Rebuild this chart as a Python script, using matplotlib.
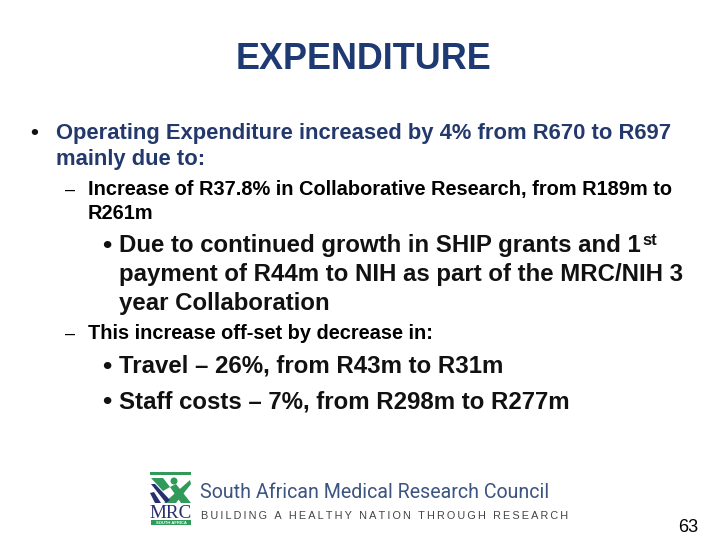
import matplotlib
matplotlib.use("Agg")
import matplotlib.pyplot as plt
from matplotlib.patches import Rectangle, Polygon, Ellipse

plt.rcParams['font.family'] = ['Liberation Sans', 'DejaVu Sans']

NAVY = '#1f3a73'
TEXT_NAVY = '#24396b'
LOGO_BLUE = '#3b5480'
DARK_BLUE = '#27306e'
GREEN = '#2f9a5a'

title = "EXPENDITURE"

# text, left x, baseline y
level1 = [
    ("Operating Expenditure increased by 4% from R670 to R697", 56, 139),
    ("mainly due to:", 56, 165),
]
level2 = [
    ("Increase of R37.8% in Collaborative Research, from R189m to", 88, 195),
    ("R261m", 88, 219),
    ("This increase off-set by decrease in:", 88, 339),
]
level3 = [
    ("Due to continued growth in SHIP grants and 1", 119, 252),
    ("payment of R44m to NIH as part of the MRC/NIH 3", 119, 281),
    ("year Collaboration", 119, 310),
    ("Travel \u2013 26%, from R43m to R31m", 119, 373),
    ("Staff costs \u2013 7%, from R298m to R277m", 119, 408),
]
bullets = [(30, 139, 16), (102, 253, 19), (102, 374, 19), (102, 409, 19)]
dashes = [(65, 195), (65, 339)]

org_name = "South African Medical Research Council"
tagline = "BUILDING A HEALTHY NATION THROUGH RESEARCH"

fig = plt.figure(figsize=(7.2, 5.4), dpi=100)
ax = fig.add_axes([0, 0, 1, 1])
ax.set_xlim(0, 720)
ax.set_ylim(540, 0)
ax.axis('off')

ax.text(363, 69, title, ha='center', va='baseline', fontsize=25.9,
        fontweight='bold', color=NAVY)

for s, x, y in level1:
    ax.text(x, y, s, va='baseline', fontsize=15.8, fontweight='bold', color=TEXT_NAVY)
for s, x, y in level2:
    ax.text(x, y, s, va='baseline', fontsize=14.4, fontweight='bold', color='black')
for s, x, y in level3:
    ax.text(x, y, s, va='baseline', fontsize=17.3, fontweight='bold', color='#111111')
ax.text(642, 245, "st", va='baseline', fontsize=12, fontweight='bold', color='#111111')

for x, y, size in bullets:
    ax.text(x, y, "\u2022", va='baseline', fontsize=size, fontweight='bold', color='#111111')
for x, y in dashes:
    ax.text(x, y, "\u2013", va='baseline', fontsize=13, color='black')

# logo
ax.add_patch(Rectangle((150, 472), 41, 2.5, color=GREEN, lw=0))
ax.add_patch(Polygon([(151, 478), (163, 478), (170, 487), (163, 491)], color=GREEN, lw=0))
ax.add_patch(Polygon([(190, 480), (191, 484), (176, 503), (164, 503)], color=GREEN, lw=0))
ax.add_patch(Polygon([(170, 487), (176, 484), (191, 503), (181, 503)], color=GREEN, lw=0))
ax.add_patch(Ellipse((174, 481), 7, 7, color=GREEN, lw=0))
ax.add_patch(Polygon([(151, 484), (155, 484), (170, 500), (166, 503)], color=DARK_BLUE, lw=0))
ax.add_patch(Polygon([(150, 493), (154, 492), (161, 503), (155, 503)], color=DARK_BLUE, lw=0))
ax.text(170.5, 518, "MRC", ha='center', va='baseline', fontsize=13.7,
        family='Liberation Serif', color=DARK_BLUE)
ax.add_patch(Rectangle((151, 520), 40, 5, color=GREEN, lw=0))
ax.text(171, 524.4, "SOUTH AFRICA", ha='center', va='baseline', fontsize=3,
        fontweight='bold', color='white')

ax.text(200, 498, org_name, va='baseline', fontsize=14.1, color=LOGO_BLUE,
        family='Roboto')
# letter spacing through thin spaces
ax.text(201, 519, "\u2009".join(tagline), va='baseline', fontsize=7.85, color='#444444')

ax.text(688, 532, "63", ha='center', va='baseline', fontsize=13, color='black')

fig.savefig("out.png", dpi=100)
